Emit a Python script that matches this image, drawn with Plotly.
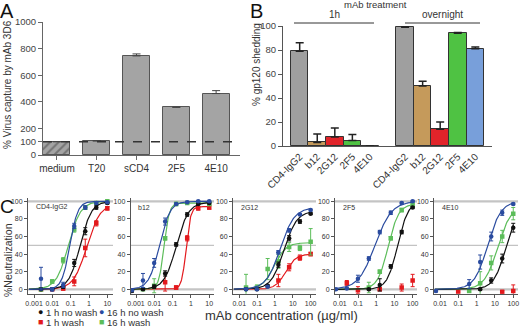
import numpy as np
import plotly.graph_objects as go

W, H = 520, 327
FONT = "Liberation Sans, Arial, Helvetica, sans-serif"

# ---------------- Panel A data ----------------
a_categories = ["medium", "T20", "sCD4", "2F5", "4E10"]
a_capture = [100, 105, 745, 358, 462]
a_capture_err = [0, 3, 15, 3, 22]
a_yticks = [0, 100, 200, 400, 600, 800, 1000]
a_reference = 100

# ---------------- Panel B data ----------------
b_mabs = ["CD4-IgG2", "b12", "2G12", "2F5", "4E10"]
b_shed_1h = [79, 3, 7.5, 4.5, 0]
b_shed_1h_err = [7, 7, 7.5, 5, 0]
b_shed_overnight = [99, 50, 14, 94, 81]
b_shed_overnight_err = [0.6, 4, 6, 0.6, 1.5]
b_groups = ["1h", "overnight"]

# ---------------- Panel C data ----------------
N = None
c_panels = ["CD4-IgG2", "b12", "2G12", "2F5", "4E10"]
c_series = ["1 h no wash", "1 h wash", "16 h no wash", "16 h wash"]
c_doses = [
    [0.0024, 0.0098, 0.039, 0.156, 0.625, 2.5, 10],
    [0.0006, 0.0024, 0.0098, 0.039, 0.156, 0.625, 2.5, 10],
    [0.024, 0.098, 0.39, 1.56, 6.25, 25, 100],
    [0.006, 0.024, 0.098, 0.39, 1.56, 6.25, 25, 100],
    [0.006, 0.024, 0.098, 0.39, 1.56, 6.25, 25, 100],
]
c_1h_nowash = [
    [0, 0, 3, 30, 66, 93, 98],
    [-2, 0, 3, 18, 51, 85, 97, 98],
    [0, 0, 4, 28, 58, 77, 86],
    [N, N, N, 0, 5, 26, 65, 93],
    [N, N, N, N, 0, 10, 35, 70],
]
c_1h_nowash_err = [
    [1, 1, 2, 4, 4, 2, 1],
    [1, 1, 2, 3, 2, 2, 1, 1],
    [1, 1, 1, 3, 3, 2, 1],
    [N, N, N, 1, 7, 2, 2, 1],
    [N, N, N, N, 1, 3, 5, 5],
]
c_1h_wash = [
    [0, 0, 1, 9, 47, 75, 92],
    [N, N, N, 8, 2, 58, 92, 93],
    [N, N, N, 10, 25, 36, 40],
    [N, 7, -1, N, 0, N, 2, 10],
    [N, N, -3, N, N, N, -3, -2],
]
c_1h_wash_err = [
    [1, 1, 2, 5, 10, 3, 2],
    [N, N, N, 10, 2, 3, 2, 2],
    [N, N, N, 7, 4, 3, 2],
    [N, 3, 4, N, 1, N, 4, 7],
    [N, N, 1, N, N, N, 2, 7],
]
c_16h_nowash = [
    [12, 0, 5, 72, 93, 98, 99],
    [-1, 10, 30, 77, 97, 99, 100, 100],
    [0, 0, 3, 42, 67, 85, 90],
    [0, 1, 12, 35, 65, 87, 98, 100],
    [-2, N, N, 6, 31, 60, 87, 97],
]
c_16h_nowash_err = [
    [13, 2, 3, 3, 2, 1, 1],
    [1, 8, 5, 4, 1, 1, 1, 1],
    [1, 1, 1, 2, 2, 1, 1],
    [1, 1, 4, 2, 2, 2, 1, 1],
    [1, N, N, 5, 8, 5, 3, 1],
]
c_16h_wash = [
    [0, 9, 33, 68, 93, 98, 100],
    [N, 0, 4, 58, 97, 98, 98, 97],
    [2, 2, 23, 32, 48, 47, 54],
    [N, N, N, 2, 20, 58, 90, 96],
    [N, N, N, -2, 7, 30, 60, 86],
]
c_16h_wash_err = [
    [2, 2, 3, 3, 2, 1, 1],
    [N, 1, 8, 2, 2, 1, 1, 1],
    [15, 3, 12, 8, 5, 3, 15],
    [N, N, N, 6, 2, 2, 2, 2],
    [N, N, N, 1, 13, 8, 7, 7],
]
# fitted dose-response parameters: (EC50, Hill slope, top)
c_fit_1h_nowash = [(0.33, 1.4, 100), (0.16, 1.3, 99), (3.2, 1.2, 89), (15, 1.5, 100), (40, 1.3, 95)]
c_fit_1h_wash = [(0.75, 1.2, 97), (0.55, 3.5, 94), (4.0, 1.5, 40), None, None]
c_fit_16h_nowash = [(0.09, 2.0, 100), (0.019, 1.5, 100), (2.0, 1.1, 93), (0.85, 0.95, 100), (4.0, 1.2, 100)]
c_fit_16h_wash = [(0.075, 1.3, 100), (0.034, 3.0, 98), (0.9, 1.3, 53), (4.5, 1.5, 97), (14, 1.2, 95)]
c_yticks = [0, 20, 40, 60, 80, 100]
c_guides = [0, 50, 100]

# ---------------- styling / layout helpers ----------------
def xd(p0, p1):
    return [p0 / W, p1 / W]

def yd(top, bottom):
    return [1 - bottom / H, 1 - top / H]

def px(x):
    return x / W

def py(y):
    return 1 - y / H

def note(text, x, y, size=10, color="#333", xanchor="center", yanchor="middle", angle=0, xref="paper"):
    return dict(text=text, x=x if xref != "paper" else px(x), y=py(y), xref=xref, yref="paper",
                xanchor=xanchor, yanchor=yanchor, textangle=angle, showarrow=False, borderpad=0,
                font=dict(size=size, color=color))

fig = go.Figure()
layout = dict(
    width=W, height=H, margin=dict(l=0, r=0, t=0, b=0, pad=0, autoexpand=False),
    paper_bgcolor="white", plot_bgcolor="white", showlegend=False,
    font=dict(family=FONT, color="#333", size=9),
    bargap=0,
)
annotations = []
shapes = []
AX = dict(automargin=False, showgrid=False, zeroline=False, fixedrange=True)

# ---------------- Panel A ----------------
a_colors = ["#a4a4a4"] * len(a_categories)
a_patterns = ["/"] + [""] * (len(a_categories) - 1)
fig.add_trace(go.Bar(
    x=a_categories, y=a_capture, xaxis="x", yaxis="y", width=0.68,
    marker=dict(color=a_colors, line=dict(color="#555", width=1),
                pattern=dict(shape=a_patterns, fgcolor="#333", size=6, solidity=0.35)),
    error_y=dict(type="data", array=a_capture_err, arrayminus=[0] * len(a_capture),
                 color="#444", thickness=1, width=4),
))
layout["xaxis"] = dict(domain=xd(43, 240), type="category", range=[-0.35, 4.6],
                       showline=True, linecolor="#666", linewidth=1, ticks="outside",
                       ticklen=4, tickcolor="#666", tickfont=dict(size=10, color="#333"),
                       anchor="y", **AX)
layout["yaxis"] = dict(domain=yd(22, 155), range=[0, 1000], tickvals=a_yticks,
                       showline=True, linecolor="#666", linewidth=1, ticks="outside",
                       ticklen=4, tickcolor="#666", tickfont=dict(size=9.5, color="#444"),
                       anchor="x", **AX)
shapes.append(dict(type="line", xref="x domain", x0=0, x1=1, yref="y",
                   y0=a_reference, y1=a_reference, line=dict(color="#333", width=1.5, dash="dash")))
annotations.append(note("% Virus capture by mAb 3D6", 8, 85, size=10, angle=-90))
annotations.append(note("A", -1, 11, size=20, color="#111", xanchor="left"))

# ---------------- Panel B ----------------
b_colors = ["#9f9f9f", "#c59a5b", "#e1242a", "#4fc243", "#789fda"]
gap = 1
b_x_1h = list(range(len(b_mabs)))
b_x_on = [i + len(b_mabs) + gap for i in range(len(b_mabs))]
for xs, ys, es in [(b_x_1h, b_shed_1h, b_shed_1h_err), (b_x_on, b_shed_overnight, b_shed_overnight_err)]:
    fig.add_trace(go.Bar(
        x=xs, y=ys, xaxis="x2", yaxis="y2", width=1.0,
        marker=dict(color=b_colors, line=dict(color="#333", width=1)),
        error_y=dict(type="data", array=es, arrayminus=[0] * len(es),
                     color="#222", thickness=1.5, width=4),
    ))
layout["xaxis2"] = dict(domain=xd(283, 492), range=[-0.95, 10.95],
                        tickvals=b_x_1h + b_x_on, ticktext=b_mabs + b_mabs, tickangle=-45,
                        showline=True, linecolor="#555", linewidth=1, ticks="",
                        tickfont=dict(size=10, color="#333"), anchor="y2", **AX)
layout["yaxis2"] = dict(domain=yd(26, 146), range=[0, 100], tickvals=[0, 20, 40, 60, 80, 100],
                        showline=True, linecolor="#555", linewidth=1, ticks="outside",
                        ticklen=4, tickcolor="#555", tickfont=dict(size=9.5, color="#444"),
                        anchor="x2", **AX)
annotations.append(note("% gp120 shedding", 256, 65, size=10, angle=-90))
annotations.append(note("B", 249, 11, size=20, color="#111", xanchor="left"))
annotations.append(note("mAb treatment", 375, 5, size=9.5))
for label, xa, xb in [(b_groups[0], 294, 374), (b_groups[1], 405, 480)]:
    annotations.append(note(label, (xa + xb) / 2, 15, size=10))
    shapes.append(dict(type="line", xref="paper", yref="paper", x0=px(xa), x1=px(xb),
                       y0=py(23), y1=py(23), line=dict(color="#333", width=1)))

# ---------------- Panel C ----------------
c_colors = ["#111111", "#e3191d", "#2a4b9f", "#5cbd5a"]
c_symbols = ["circle", "square", "circle", "square"]
c_values = [c_1h_nowash, c_1h_wash, c_16h_nowash, c_16h_wash]
c_errors = [c_1h_nowash_err, c_1h_wash_err, c_16h_nowash_err, c_16h_wash_err]
c_fits = [c_fit_1h_nowash, c_fit_1h_wash, c_fit_16h_nowash, c_fit_16h_wash]
c_xdom = [(28, 113), (130.7, 214), (233, 316), (335, 417), (434, 518)]
c_xrange = [(-3.33, 1.31), (-3.29, 1.26), (-2.35, 2.3), (-2.27, 2.24), (-2.33, 2.26)]
c_xticks = [[0.001, 0.01, 0.1, 1, 10], [0.001, 0.01, 0.1, 1, 10],
            [0.01, 0.1, 1, 10, 100], [0.01, 0.1, 1, 10, 100], [0.01, 0.1, 1, 10, 100]]

for p in range(len(c_panels)):
    n = p + 3
    xa, ya = f"x{n}", f"y{n}"
    doses = c_doses[p]
    for s in [1, 3, 0, 2]:
        vals, errs = c_values[s][p], c_errors[s][p]
        xs = [d for d, v in zip(doses, vals) if v is not None]
        ys = [v for v in vals if v is not None]
        es = [e for v, e in zip(vals, errs) if v is not None]
        fit = c_fits[s][p]
        if fit is not None:
            ec50, hill, top = fit
            xc = np.logspace(c_xrange[p][0] + 0.05, np.log10(max(xs)), 150)
            yc = top / (1 + (ec50 / xc) ** hill)
            fig.add_trace(go.Scatter(x=xc, y=yc, mode="lines", xaxis=xa, yaxis=ya,
                                     line=dict(color=c_colors[s], width=1.2), hoverinfo="skip"))
        fig.add_trace(go.Scatter(
            x=xs, y=ys, mode="markers", xaxis=xa, yaxis=ya, name=c_series[s],
            marker=dict(color=c_colors[s], symbol=c_symbols[s], size=4.5),
            error_y=dict(type="data", array=es, color=c_colors[s], thickness=1, width=2),
        ))
    layout[f"xaxis{n}"] = dict(domain=xd(*c_xdom[p]), type="log", range=list(c_xrange[p]),
                               tickvals=c_xticks[p], ticktext=[f"{t:g}" for t in c_xticks[p]],
                               showline=True, linecolor="#555", linewidth=1, ticks="outside",
                               ticklen=3, tickcolor="#555", tickfont=dict(size=7, color="#333"),
                               anchor=ya, **AX)
    layout[f"yaxis{n}"] = dict(domain=yd(197.8, 293.7), range=[-5, 104], tickvals=c_yticks,
                               showline=True, linecolor="#555", linewidth=1, ticks="outside",
                               ticklen=3, tickcolor="#555", tickfont=dict(size=7, color="#333"),
                               anchor=xa, **AX)
    for g in c_guides:
        shapes.append(dict(type="line", xref=f"{xa} domain", x0=0, x1=1, yref=ya, y0=g, y1=g,
                           layer="below",
                           line=dict(color="#c4c4c4" if g != 50 else "#b5b5b5",
                                     width=2.2 if g != 50 else 1)))
    annotations.append(note(c_panels[p], 0.08, 207, size=7, xanchor="left", xref=f"{xa} domain"))

annotations.append(note("%Neutralization", 8, 260, size=10.5, angle=-90))
annotations.append(note("C", -1, 206, size=19, color="#111", xanchor="left"))
annotations.append(note("mAb concentration (\u00b5g/ml)", 281, 315, size=13))
# legend
leg_pos = [(40.7, 312), (40.7, 322), (101.7, 312), (101.7, 322)]
leg_glyph = ["\u25cf", "\u25a0", "\u25cf", "\u25a0"]
for s in range(4):
    lx, ly = leg_pos[s]
    annotations.append(note(leg_glyph[s], lx, ly, size=9, color=c_colors[s]))
    annotations.append(note(c_series[s], lx + 4.5, ly, size=9.5, xanchor="left"))

layout["annotations"] = annotations
layout["shapes"] = shapes
fig.update_layout(**layout)
fig.write_html("out.html", config={"displayModeBar": False},
               post_script="document.body.style.margin='0';document.body.style.overflow='hidden';")
